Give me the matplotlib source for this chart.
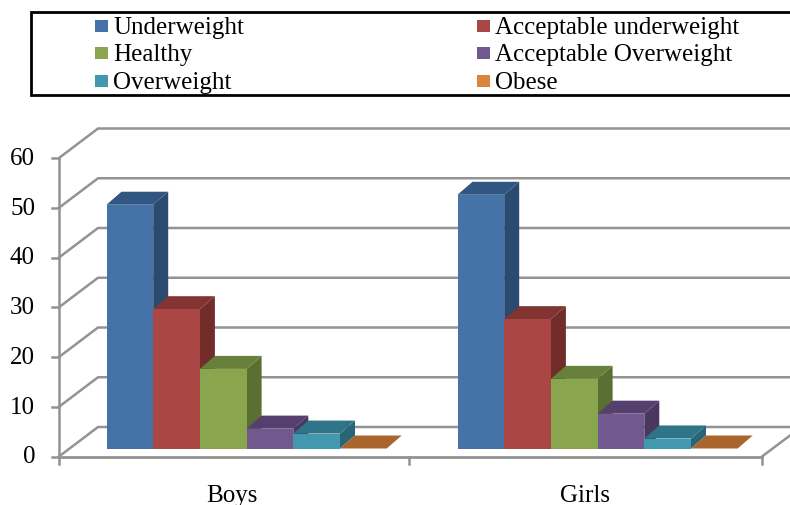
import matplotlib
matplotlib.use("Agg")
import matplotlib.pyplot as plt
from matplotlib.patches import Polygon, Rectangle

categories = ['Boys', 'Girls']
series = ['Underweight', 'Acceptable underweight', 'Healthy',
          'Acceptable Overweight', 'Overweight', 'Obese']
boys = [49, 28, 16, 4, 3, 0]
girls = [51, 26, 14, 7, 2, 0]
y_ticks = [0, 10, 20, 30, 40, 50, 60]

front = ['#4572A7', '#AA4643', '#89A54E', '#71588F', '#4198AF', '#DB843D']
top = ['#315681', '#813432', '#67803A', '#553F6E', '#2F7488', '#A9652C']
side = ['#2A4A70', '#722D2B', '#5A7033', '#4A375F', '#296577', '#93582A']

plt.rcParams['font.family'] = 'Liberation Serif'
plt.rcParams['font.size'] = 18

fig = plt.figure(figsize=(7.9, 5.06), dpi=100)
ax = fig.add_axes([0, 0, 1, 1])

# x in pixels, y in chart values, so the whole fake 3d box shares one scale
ppu = 4.975
zero = 457.5
ax.set_xlim(0, 790)
ax.set_ylim((zero - 506) / ppu, zero / ppu)
ax.axis('off')

grey = '#939393'
x0, x1 = 59, 762
dx, dy = 39, 29.5 / ppu   # wall depth

for v in y_ticks:
    ax.plot([x0, x0 + dx, 790], [v, v + dy, v + dy], color=grey, lw=1.8, zorder=1)
    ax.plot([x0 - 7, x0], [v, v], color=grey, lw=1.8, zorder=1)
    ax.text(35, v, str(v), ha='right', va='center', color='black')

ax.plot([x0, x0], [0, 60], color=grey, lw=1.8, zorder=1)
ax.plot([x0, x1], [0, 0], color=grey, lw=2, zorder=1)
ax.plot([x1, 790], [0, 21 / ppu], color=grey, lw=1.8, zorder=1)
for t in [x0, 409, x1]:
    ax.plot([t, t], [0, -7 / ppu], color=grey, lw=1.8, zorder=1)

# bars
bar_w = 46.7
base = 8 / ppu
bx, by = 15, 13 / ppu
for left, values in zip([106.5, 457.5], [boys, girls]):
    for i, v in enumerate(values):
        xa = left + i * bar_w
        xb = xa + bar_w
        h = base + v
        ax.add_patch(Polygon([(xb, base), (xb + bx, base + by), (xb + bx, h + by), (xb, h)],
                             fc=side[i], ec='none', zorder=3))
        ax.add_patch(Polygon([(xa, h), (xa + bx, h + by), (xb + bx, h + by), (xb, h)],
                             fc=top[i], ec='none', zorder=3))
        ax.add_patch(Rectangle((xa, base), bar_w, v, fc=front[i], ec='none', zorder=3))

for c, x in zip(categories, [232, 585]):
    ax.text(x, (zero - 496) / ppu, c, ha='center', va='center', color='black')

# legend box, runs off the right edge
ax.plot([790, 31, 31, 790],
        [(zero - 13) / ppu, (zero - 13) / ppu, (zero - 96) / ppu, (zero - 96) / ppu],
        color='black', lw=2, zorder=5, solid_joinstyle='miter')
leg_y = [27, 54, 82]
for i, name in enumerate(series):
    lx = [95, 477][i % 2]
    ly = (zero - leg_y[i // 2]) / ppu
    ax.add_patch(Rectangle((lx, ly - 6 / ppu), 13, 12 / ppu, fc=front[i], ec='none', zorder=5))
    ax.text(lx + 18, (zero - leg_y[i // 2] - 7) / ppu, name, ha='left', va='baseline',
            color='black', zorder=5)

plt.savefig("out.png", dpi=100)
